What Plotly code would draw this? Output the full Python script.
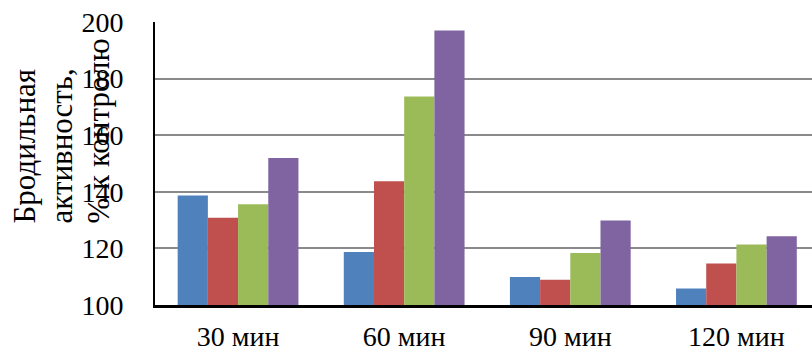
import plotly.graph_objects as go

# Fermentation activity, % of control, by time point
categories = ["30 мин", "60 мин", "90 мин", "120 мин"]
series_1 = [138.7, 118.7, 109.9, 105.8]
series_2 = [130.8, 143.7, 108.9, 114.7]
series_3 = [135.6, 173.7, 118.4, 121.4]
series_4 = [151.9, 197.0, 129.9, 124.3]
y_ticks = [100, 120, 140, 160, 180, 200]
title_lines = ["Бродильная", "активность,", "% к контролю"]

colors = ["#4F81BD", "#C0504D", "#9BBB59", "#8064A2"]
font_family = "Liberation Serif, Times New Roman, serif"

fig = go.Figure()
for vals, col in zip([series_1, series_2, series_3, series_4], colors):
    fig.add_trace(go.Bar(x=categories, y=vals, marker=dict(color=col, line=dict(width=0)),
                         showlegend=False))

W, H = 812, 353
ml, mr, mt, mb = 155, 0, 22, 48

fig.update_layout(
    width=W, height=H,
    margin=dict(l=ml, r=mr, t=mt, b=mb),
    barmode="group",
    bargap=0.273,
    bargroupgap=0,
    plot_bgcolor="white",
    paper_bgcolor="white",
    font=dict(family=font_family, color="black"),
)
fig.update_xaxes(
    range=[-0.5, 3.455],
    automargin=False,
    showline=True, linecolor="black", linewidth=2.5,
    showgrid=False, ticks="",
    tickfont=dict(size=28, family=font_family),
    ticklabelstandoff=5,
)
fig.update_yaxes(
    range=[100, 200],
    automargin=False,
    tickvals=y_ticks,
    showline=True, linecolor="black", linewidth=2,
    showgrid=True, gridcolor="#8a8a8a", gridwidth=1.5,
    zeroline=False, ticks="",
    tickfont=dict(size=28, family=font_family),
    ticklabelstandoff=24,
)

# Rotated y-axis title, one annotation per line, all starting at the same bottom edge
plot_h = H - mt - mb
plot_w = W - ml - mr
title_bottom_px = 226
line_centers_px = [24, 61, 98]
for line, cx in zip(title_lines, line_centers_px):
    fig.add_annotation(
        text=line,
        textangle=-90,
        xref="paper", yref="paper",
        x=(cx - ml) / plot_w,
        y=(H - mb - title_bottom_px) / plot_h,
        xanchor="center", yanchor="bottom",
        showarrow=False,
        font=dict(size=31, family=font_family, color="black"),
    )

fig.write_html("out.html")
